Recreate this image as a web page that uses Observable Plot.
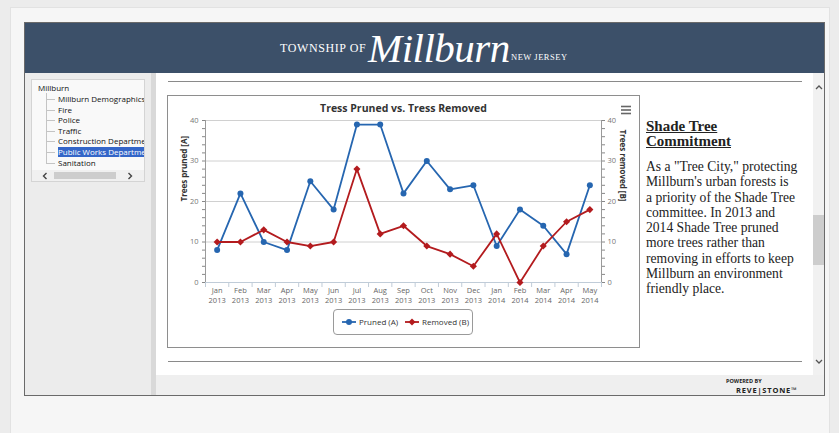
<!DOCTYPE html>
<html>
<head>
<meta charset="utf-8">
<script src="https://cdn.jsdelivr.net/npm/d3@7"></script>
<script src="https://cdn.jsdelivr.net/npm/@observablehq/plot@0.6"></script>
<style>
  html, body { margin:0; padding:0; width:839px; height:433px; overflow:hidden; background:#ececec; font-family:"Open Sans", sans-serif; }
  .abs { position:absolute; }
  #outer { left:10px; top:7px; width:818px; height:430px; background:#f6f6f6; border:1px solid #e2e2e2; }
  #frame { left:24px; top:22px; width:799px; height:372px; border:1px solid #6a6a6a; background:#ececec; overflow:hidden; }
  #header { left:0; top:0; width:799px; height:50px; background:#3c5069; }
  #nav { left:0; top:50px; width:126px; height:322px; background:#ececec; }
  #divider { left:126px; top:50px; width:5px; height:322px; background:#d9d9d9; }
  #content { left:131px; top:50px; width:657px; height:302px; background:#fff; }
  #footer { left:131px; top:352px; width:668px; height:20px; background:#efefef; }
  #vscroll { left:788px; top:50px; width:11px; height:302px; background:#f1f1f1; }
  #tree { left:6px; top:6px; width:112px; height:101px; background:#f9f9f9; border:1px solid #d4d4d4; overflow:hidden; font-size:8px; color:#111; }
  .item { position:absolute; left:26px; white-space:nowrap; line-height:10px; }
  .hl { background:#3466c8; color:#fff; padding-right:4px; }
  .dash { position:absolute; left:14px; width:9px; border-top:1px solid #c4c4c4; }
  #chartbox { left:167px; top:95px; width:471px; height:251px; border:1px solid #8e8e8e; background:#fff; }
  #side { left:646px; top:119px; width:170px; font-family:"Liberation Serif", serif; color:#222; }
</style>
</head>
<body>
<div id="outer" class="abs"></div>
<div id="frame" class="abs">
  <div id="header" class="abs">
    <div class="abs" style="left:255px;top:19px;color:#fff;font-family:'Liberation Serif',serif;font-size:12px;letter-spacing:0.6px;line-height:12px;">TOWNSHIP OF</div>
    <div class="abs" style="left:343px;top:5px;color:#fff;font-family:'Liberation Serif',serif;font-style:italic;font-size:41px;line-height:40px;letter-spacing:-0.5px;">Millburn</div>
    <div class="abs" style="left:486px;top:30px;color:#fff;font-family:'Liberation Serif',serif;font-size:8.5px;letter-spacing:0.5px;line-height:9px;">NEW JERSEY</div>
  </div>
  <div id="nav" class="abs">
    <div id="tree" class="abs">
      <div class="item" style="left:6px;top:3px;">Millburn</div>
      <div class="abs" style="left:14px;top:13px;height:70px;border-left:1px solid #c4c4c4;"></div>
      <div class="dash" style="top:19px"></div><div class="item" style="top:14px;">Millburn Demographics</div>
      <div class="dash" style="top:30px"></div><div class="item" style="top:25px;">Fire</div>
      <div class="dash" style="top:40px"></div><div class="item" style="top:35px;">Police</div>
      <div class="dash" style="top:51px"></div><div class="item" style="top:46px;">Traffic</div>
      <div class="dash" style="top:61px"></div><div class="item" style="top:56px;">Construction Departme</div>
      <div class="dash" style="top:72px"></div><div class="item hl" style="top:67px;">Public Works Departme</div>
      <div class="dash" style="top:83px"></div><div class="item" style="top:78px;">Sanitation</div>
      <div class="abs" style="left:0;top:90px;width:112px;height:11px;background:#f0f0f0;"></div>
      <div class="abs" style="left:22px;top:92px;width:62px;height:7px;background:#cdcdcd;"></div>
      <svg class="abs" style="left:10px;top:92px;" width="6" height="8"><path d="M4.5,1L1.5,4L4.5,7" fill="none" stroke="#444" stroke-width="1.4"/></svg>
      <svg class="abs" style="left:95px;top:92px;" width="6" height="8"><path d="M1.5,1L4.5,4L1.5,7" fill="none" stroke="#444" stroke-width="1.4"/></svg>
    </div>
  </div>
  <div id="divider" class="abs"></div>
  <div id="content" class="abs">
    <div class="abs" style="left:12px;top:8px;width:634px;border-top:1px solid #8a8a8a;"></div>
    <div class="abs" style="left:12px;top:288px;width:634px;border-top:1px solid #8a8a8a;"></div>
  </div>
  <div id="vscroll" class="abs">
    <svg class="abs" style="left:2px;top:11px;" width="8" height="6"><path d="M1,5L4,2L7,5" fill="none" stroke="#555" stroke-width="1.3"/></svg>
    <div class="abs" style="left:0;top:142px;width:11px;height:50px;background:#cdcdcd;"></div>
    <svg class="abs" style="left:2px;top:286px;" width="8" height="6"><path d="M1,1L4,4L7,1" fill="none" stroke="#555" stroke-width="1.3"/></svg>
  </div>
  <div id="footer" class="abs">
    <div class="abs" style="left:570px;top:3px;font-size:5.5px;line-height:6px;font-weight:bold;color:#222;">POWERED BY</div>
    <div class="abs" style="left:580px;top:11px;font-size:7.5px;line-height:8px;font-weight:bold;color:#222;letter-spacing:0.8px;">REVE|STONE&trade;</div>
  </div>
</div>
<div id="chartbox" class="abs">
  <div id="chart" class="abs" style="left:0;top:0;"></div>
  <div class="abs" style="left:0;top:5px;width:471px;text-align:center;font-size:10.5px;font-weight:bold;color:#333;">Tress Pruned vs. Tress Removed</div>
  <svg class="abs" style="left:452px;top:9px;" width="12" height="10"><g stroke="#666" stroke-width="1.6"><line x1="1" y1="1.5" x2="11" y2="1.5"/><line x1="1" y1="5" x2="11" y2="5"/><line x1="1" y1="8.5" x2="11" y2="8.5"/></g></svg>
  <div id="legend" class="abs" style="left:165px;top:213px;width:138px;height:24px;border:1px solid #9a9a9a;border-radius:4px;font-size:8px;color:#333;"></div>
</div>
<div id="side" class="abs">
  <div style="font-weight:bold;text-decoration:underline;font-size:15px;line-height:14.5px;">Shade Tree<br>Commitment</div>
  <div style="margin-top:11px;font-size:13.6px;line-height:15.25px;white-space:nowrap;">As a "Tree City," protecting<br>Millburn's urban forests is<br>a priority of the Shade Tree<br>committee. In 2013 and<br>2014 Shade Tree pruned<br>more trees rather than<br>removing in efforts to keep<br>Millburn an environment<br>friendly place.</div>
</div>
<script>
const months = ["Jan","Feb","Mar","Apr","May","Jun","Jul","Aug","Sep","Oct","Nov","Dec","Jan","Feb","Mar","Apr","May"];
const years  = ["2013","2013","2013","2013","2013","2013","2013","2013","2013","2013","2013","2013","2014","2014","2014","2014","2014"];
const pruned  = [8, 22, 10, 8, 25, 18, 39, 39, 22, 30, 23, 24, 9, 18, 14, 7, 24];
const removed = [10, 10, 13, 10, 9, 10, 28, 12, 14, 9, 7, 4, 12, 0, 9, 15, 18];
const seriesNames = ["Pruned (A)", "Removed (B)"];
const colors = ["#2666b0", "#b31b1e"];

const data = months.map((m, i) => ({i, month: m, year: years[i], pruned: pruned[i], removed: removed[i]}));
const idx = d3.range(months.length);
const bounds = d3.range(months.length + 1).map(i => i - 0.5);

const chart = Plot.plot({
  width: 471, height: 251,
  marginLeft: 37, marginRight: 38, marginTop: 24, marginBottom: 65,
  style: {fontFamily: "Open Sans, sans-serif", fontSize: "7.5px", color: "#666", background: "transparent"},
  x: {type: "linear", domain: [-0.5, months.length - 0.5], label: null},
  y: {domain: [0, 40], label: null},
  marks: [
    Plot.gridY([10, 20, 30, 40], {stroke: "#d0d0d0", strokeOpacity: 1}),
    Plot.ruleY([0], {stroke: "#c0ccd8"}),
    Plot.ruleX([-0.5, months.length - 0.5], {stroke: "#9a9a9a"}),
    Plot.axisY(d3.range(0, 41, 2), {anchor: "left", tickSize: 3, tickFormat: () => "", stroke: "#888", label: null}),
    Plot.axisY(d3.range(0, 41, 2), {anchor: "right", tickSize: 3, tickFormat: () => "", stroke: "#888", label: null}),
    Plot.axisY([0, 10, 20, 30, 40], {anchor: "left", tickSize: 0, tickPadding: 7, label: null, fill: "#777"}),
    Plot.axisY([0, 10, 20, 30, 40], {anchor: "right", tickSize: 0, tickPadding: 6, label: null, fill: "#777"}),
    Plot.axisX(bounds, {anchor: "bottom", tickSize: 5, tickFormat: () => "", stroke: "#c0ccd8", label: null}),
    Plot.axisX(idx, {anchor: "bottom", tickSize: 0, tickPadding: 4, label: null, fill: "#666", lineHeight: 1.3, tickFormat: i => months[i] + "\n" + years[i]}),
    Plot.text(["Trees pruned [A]"], {frameAnchor: "left", dx: -21, rotate: -90, fontWeight: "bold", fill: "#333", fontSize: 8}),
    Plot.text(["Trees removed [B]"], {frameAnchor: "right", dx: 21, rotate: 90, fontWeight: "bold", fill: "#333", fontSize: 8}),
    Plot.line(data, {x: "i", y: "pruned", stroke: colors[0], strokeWidth: 1.8}),
    Plot.dot(data, {x: "i", y: "pruned", fill: colors[0], r: 3, symbol: "circle"}),
    Plot.line(data, {x: "i", y: "removed", stroke: colors[1], strokeWidth: 1.8}),
    Plot.dot(data, {x: "i", y: "removed", fill: colors[1], r: 3.2, symbol: "diamond2"})
  ]
});
document.getElementById("chart").appendChild(chart);

// legend
const leg = d3.select("#legend");
const items = [{name: seriesNames[0], color: colors[0], x: 8, sym: "circle"}, {name: seriesNames[1], color: colors[1], x: 71, sym: "diamond2"}];
for (const it of items) {
  const s = leg.append("svg").attr("width", 14).attr("height", 8).style("position", "absolute").style("left", it.x + "px").style("top", "8px");
  s.append("line").attr("x1", 0).attr("x2", 14).attr("y1", 4).attr("y2", 4).attr("stroke", it.color).attr("stroke-width", 1.8);
  if (it.sym === "circle") s.append("circle").attr("cx", 7).attr("cy", 4).attr("r", 3).attr("fill", it.color);
  else s.append("path").attr("d", "M7,0.5L10.5,4L7,7.5L3.5,4Z").attr("fill", it.color);
  leg.append("div").text(it.name).style("position", "absolute").style("left", (it.x + 17) + "px").style("top", "6px").style("white-space", "nowrap");
}
</script>
</body>
</html>
